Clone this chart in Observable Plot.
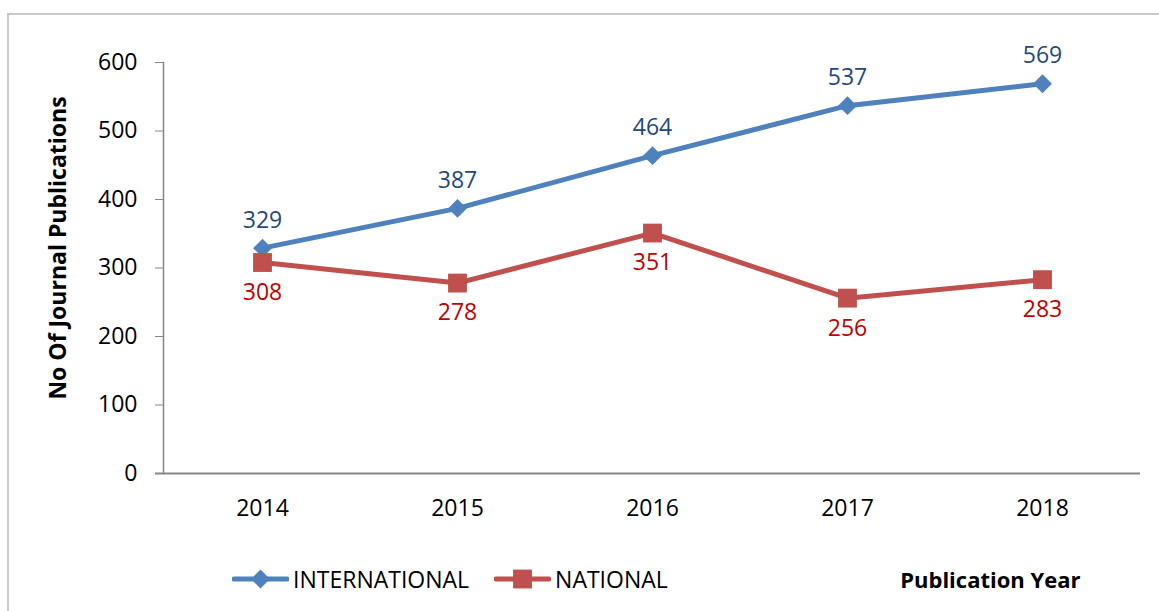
<!DOCTYPE html>
<html>
<head>
<meta charset="utf-8">
<script src="https://cdn.jsdelivr.net/npm/d3@7"></script>
<script src="https://cdn.jsdelivr.net/npm/@observablehq/plot@0.6"></script>
<style>
  html, body { margin: 0; padding: 0; background: #fff; }
  #wrap { position: relative; width: 1159px; height: 611px; overflow: hidden; font-family: "Open Sans", sans-serif; }
  #border { position: absolute; left: 7px; top: 13px; width: 1300px; height: 800px; border-left: 2px solid #c8c8c8; border-top: 2px solid #c8c8c8; }
  #chart { position: absolute; left: 0; top: 0; }
  #legend { position: absolute; left: 232px; top: 564px; height: 30px; display: flex; align-items: center; font-size: 23px; color: #000; }
  #legend .item { display: flex; align-items: center; }
  #legend svg { display: block; margin-right: 4px; }
  #legend .gap { width: 25px; }
</style>
</head>
<body>
<div id="wrap">
  <div id="border"></div>
  <div id="chart"></div>
  <div id="legend"></div>
</div>
<script>
const years = ["2014", "2015", "2016", "2017", "2018"];
const international = [329, 387, 464, 537, 569];
const national = [308, 278, 351, 256, 283];
const seriesNames = ["INTERNATIONAL", "NATIONAL"];
const seriesColors = ["#4F81BD", "#C0504D"];
const labelColors = ["#1F497D", "#C00000"];
const yTicks = [0, 100, 200, 300, 400, 500, 600];
const yTitle = "No Of Journal Publications";
const xTitle = "Publication Year";

const rows = [
  ...years.map((year, i) => ({year, value: international[i], series: seriesNames[0]})),
  ...years.map((year, i) => ({year, value: national[i], series: seriesNames[1]}))
];
const intlRows = rows.filter(d => d.series === seriesNames[0]);
const natRows = rows.filter(d => d.series === seriesNames[1]);

const chart = Plot.plot({
  width: 1159,
  height: 611,
  marginLeft: 163,
  marginRight: 19,
  marginTop: 62,
  marginBottom: 138,
  style: {fontFamily: "Open Sans, sans-serif", fontSize: "23px", background: "transparent", overflow: "visible"},
  x: {type: "point", domain: years, padding: 0.5, label: null},
  y: {domain: [0, 600], label: null},
  color: {domain: seriesNames, range: seriesColors},
  marks: [
    Plot.frame({anchor: "left", stroke: "#868686", strokeWidth: 1.5}),
    Plot.ruleY([0], {stroke: "#868686", strokeWidth: 2, insetLeft: -8}),
    Plot.axisY({ticks: yTicks, tickSize: 8, tickPadding: 18, stroke: "#868686", fill: "#000", label: null, tickFormat: d => String(d)}),
    Plot.axisX({tickSize: 0, tickPadding: 26, fill: "#000", label: null}),
    Plot.line(rows, {x: "year", y: "value", z: "series", stroke: "series", strokeWidth: 5, strokeLinejoin: "round", strokeLinecap: "round"}),
    Plot.dot(intlRows, {x: "year", y: "value", symbol: "diamond2", r: 8.5, fill: seriesColors[0], stroke: "none"}),
    Plot.dot(natRows, {x: "year", y: "value", symbol: "square2", r: 12, fill: seriesColors[1], stroke: "none"}),
    Plot.text(intlRows, {x: "year", y: "value", text: d => String(d.value), dy: -28, fill: labelColors[0], fontSize: 23}),
    Plot.text(natRows, {x: "year", y: "value", text: d => String(d.value), dy: 30, fill: labelColors[1], fontSize: 23}),
    Plot.text([yTitle], {frameAnchor: "left", text: d => d, textAnchor: "middle", lineAnchor: "middle", rotate: -90, dx: -105, dy: -20, fontWeight: "bold", fontSize: 23, fill: "#000"}),
    Plot.text([xTitle], {frameAnchor: "bottom-right", text: d => d, textAnchor: "end", dx: -60, dy: 114, fontWeight: "bold", fontSize: 22, fill: "#000"})
  ]
});
document.getElementById("chart").appendChild(chart);

// Legend
const legend = d3.select("#legend");
seriesNames.forEach((name, i) => {
  if (i > 0) legend.append("div").attr("class", "gap");
  const item = legend.append("div").attr("class", "item");
  const svg = item.append("svg").attr("width", 57).attr("height", 24);
  svg.append("line").attr("x1", 2).attr("x2", 55).attr("y1", 12).attr("y2", 12)
    .attr("stroke", seriesColors[i]).attr("stroke-width", 5).attr("stroke-linecap", "round");
  if (i === 0) {
    svg.append("path").attr("d", d3.symbol(d3.symbolDiamond2, Math.PI * 8.5 * 8.5)()).attr("transform", "translate(28.5,12)").attr("fill", seriesColors[i]);
  } else {
    svg.append("path").attr("d", d3.symbol(d3.symbolSquare2, Math.PI * 12 * 12)()).attr("transform", "translate(28.5,12)").attr("fill", seriesColors[i]);
  }
  item.append("span").text(name);
});
</script>
</body>
</html>
